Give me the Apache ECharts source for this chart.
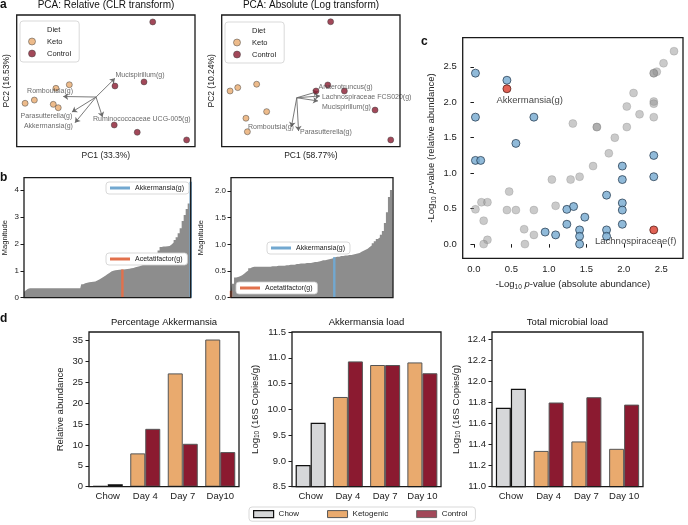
<!DOCTYPE html>
<html>
<head>
<meta charset="utf-8">
<script src="https://cdn.jsdelivr.net/npm/echarts@6/dist/echarts.min.js"></script>
<style>
  html, body { margin: 0; padding: 0; background: #fff; }
  #chart { width: 688px; height: 525px; }
</style>
</head>
<body>
<div id="chart"></div>
<script>
// ---- panel a: PCA biplots ----
const relKeto = [[-2.80, -0.42], [-2.05, -0.22], [-4.53, -1.26], [-4.01, -1.08], [-2.95, -1.32], [-2.67, -1.51]]
const relCtrl = [[2.63, 3.31], [0.51, -0.29], [2.14, -0.06], [0.47, -2.48], [1.76, -2.89], [4.53, -3.32]]
const relOrigin = [-0.55, -0.91]
const relLoadNames = ['Mucispirillum(g)', 'Romboutsia(g)', 'Parasutterella(g)', 'Akkermansia(g)', 'Ruminococcaceae UCG-005(g)']
const relLoadTips = [[0.51, 0.14], [-2.39, -0.88], [-1.90, -1.75], [-1.73, -2.35], [-0.19, -2.03]]
const relLoadLabels = [[0.54, 0.33], [-3.13, -0.57], [-3.33, -1.97], [-3.22, -2.54], [-0.72, -2.14]]

const absKeto = [[-4.53, -0.57], [-4.10, -0.38], [-3.04, -0.19], [-2.48, -1.73], [-3.64, -2.10], [-3.56, -2.86]]
const absCtrl = [[1.11, 3.32], [0.29, -0.57], [0.95, -0.23], [1.88, -0.57], [3.60, -1.64], [4.48, -3.32]]
const absOrigin = [-0.79, -0.95]
const absLoadNames = ['Anaerotruncus(g)', 'Lachnospiraceae FCS020(g)', 'Mucispirillum(g)', 'Romboutsia(g)', 'Parasutterella(g)']
const absLoadTips = [[0.40, -0.60], [0.51, -0.85], [0.40, -1.13], [-1.09, -2.59], [-0.69, -2.82]]
const absLoadLabels = [[0.43, -0.35], [0.62, -0.91], [0.62, -1.47], [-2.24, -2.62], [-0.61, -2.87]]

// ---- panel b: sorted feature magnitudes ----
const magRel = [0.22, 0.28, 0.33,
  0.35, 0.35, 0.35, 0.35, 0.35, 0.35, 0.35, 0.35, 0.35, 0.35, 0.35, 0.35, 0.35,
  0.35, 0.35, 0.35, 0.35, 0.35, 0.35, 0.35, 0.35, 0.35, 0.35, 0.35, 0.35, 0.35,
  0.50, 0.54, 0.56, 0.57, 0.58, 0.59, 0.60, 0.64, 0.68, 0.72, 0.77, 0.82, 0.87, 0.92, 0.97,
  1.00, 1.02, 1.03, 1.04, 1.05, 1.05, 1.06, 1.07, 1.08, 1.09, 1.10, 1.13, 1.15, 1.17, 1.20,
  1.22, 1.25, 1.28, 1.30, 1.33, 1.36, 1.45, 1.59, 1.75, 1.88, 1.90, 1.90, 1.91, 1.92, 1.98,
  2.05, 2.14, 2.25, 2.40, 2.58, 2.85, 3.07, 3.30, 3.50, 4.31]
const relAcetIdx = 49
const relAkkIdx = 83

const magAbs = [0.13, 0.26, 0.38, 0.39, 0.40, 0.42, 0.45, 0.48, 0.51, 0.55, 0.57,
  0.58, 0.58, 0.58, 0.58, 0.58, 0.58, 0.58, 0.58, 0.58,
  0.59, 0.59, 0.59, 0.60, 0.60, 0.60, 0.60,
  0.61, 0.61, 0.62, 0.62, 0.62, 0.63, 0.63, 0.64, 0.64, 0.64, 0.65, 0.65, 0.65,
  0.66, 0.67, 0.67, 0.68, 0.69, 0.70, 0.70,
  0.71, 0.72, 0.73, 0.74, 0.76,
  0.77, 0.77, 0.78, 0.78, 0.79, 0.79, 0.80, 0.80,
  0.81, 0.82, 0.83, 0.84, 0.86, 0.88, 0.90, 0.92, 0.95, 0.98, 1.02,
  1.06, 1.10, 1.13, 1.18, 1.25, 1.40, 1.60, 1.89, 2.02, 2.10]
const absAcetIdx = 0
const absAkkIdx = 51

// ---- panel c: -log10 p-values ----
const greyPts = [[2.67, 2.72], [2.53, 2.55], [2.40, 2.41], [2.44, 2.43], [2.40, 2.41], [2.13, 2.13],
  [2.04, 1.94], [2.40, 2.01], [2.40, 1.98], [2.21, 1.83], [2.40, 1.79], [1.32, 1.70], [1.64, 1.65],
  [1.64, 1.65], [2.04, 1.65], [1.88, 1.50], [1.80, 1.28], [1.59, 1.10], [1.41, 0.95], [1.29, 0.91],
  [1.04, 0.91], [0.47, 0.74], [0.10, 0.59], [0.18, 0.59], [0.02, 0.49], [0.44, 0.48], [0.56, 0.48],
  [0.80, 0.48], [1.09, 0.54], [0.13, 0.33], [0.67, 0.21], [0.80, 0.13], [0.18, 0.06], [0.13, 0.00],
  [0.68, 0.00]]
const bluePts = [[0.02, 2.41], [0.44, 2.31], [0.02, 1.79], [0.80, 1.79], [0.56, 1.42], [0.02, 1.18],
  [0.09, 1.18], [1.98, 1.10], [1.98, 0.91], [2.40, 1.25], [2.40, 0.95], [1.77, 0.69], [1.24, 0.49],
  [1.33, 0.53], [1.48, 0.38], [1.24, 0.28], [0.95, 0.17], [1.09, 0.13], [1.41, 0.20], [1.41, 0.11],
  [1.41, 0.00], [1.77, 0.20], [1.77, 0.11], [1.98, 0.58], [1.98, 0.48], [1.98, 0.28]]
const redPts = [[0.44, 2.19], [2.40, 0.20]]
const redNames = ['Akkermansia(g)', 'Lachnospiraceae(f)']
const cTicks = [0, 0.5, 1, 1.5, 2, 2.5]

// ---- panel d: bars ----
const dayCats1 = ['Chow', 'Day 4', 'Day 7', 'Day10']
const dayCats = ['Chow', 'Day 4', 'Day 7', 'Day 10']
const pctChow = [0.15, 0.6]
const pctKeto = [7.97, 27.1, 35.2]
const pctCtrl = [13.84, 10.26, 8.28]
const loadChow = [8.92, 9.74]
const loadKeto = [10.24, 10.86, 10.91]
const loadCtrl = [10.93, 10.86, 10.70]
const totalChow = [11.75, 11.93]
const totalKeto = [11.34, 11.43, 11.36]
const totalCtrl = [11.80, 11.85, 11.78]
const pctTicks = [0, 5, 10, 15, 20, 25, 30, 35]
const loadTicks = [8.5, 9, 9.5, 10, 10.5, 11, 11.5]
const totalTicks = [11.0, 11.2, 11.4, 11.6, 11.8, 12.0, 12.2, 12.4]

const FF = '"Liberation Sans", Arial, sans-serif'
const KETO = '#e9aa6e'
const CTRL = '#8b1a30'
const CHOW = '#d6d7d9'
const GREYBAR = '#8d8d8d'
const ORANGE = '#e2714c'
const BLUE = '#72a8d0'
const INK = '#1a1a1a'

const chart = echarts.init(document.getElementById('chart'), null, { renderer: 'canvas' })

const frame = { show: true, borderColor: INK, borderWidth: 1.3, backgroundColor: 'rgba(0,0,0,0)', z: 10 }
const grids = [
  { left: 16.7, top: 15, width: 178.3, height: 131.7 },
  { left: 221.7, top: 15, width: 178.3, height: 131.7 },
  { left: 22.7, top: 177.7, width: 168, height: 120 },
  { left: 231, top: 177.7, width: 162, height: 120 },
  { left: 462.7, top: 37.7, width: 220.3, height: 220.6 },
  { left: 89, top: 332, width: 150, height: 154.7 },
  { left: 292, top: 332, width: 149, height: 154.7 },
  { left: 492, top: 332, width: 151, height: 154.7 },
].map((g) => ({ ...g, ...frame }))

const hidden = {
  axisLine: { show: false },
  axisTick: { show: false },
  axisLabel: { show: false },
  splitLine: { show: false },
}
const nameStyle = (size) => ({ fontSize: size, color: '#222', fontFamily: FF })
const sub = { s: { fontSize: 6.5, verticalAlign: 'bottom', lineHeight: 12 }, i: { fontStyle: 'italic', fontSize: 9.5 } }
const fix1 = (v) => v.toFixed(1)

function valueY(gi, min, max, ticks, fmt, size, margin, name, gap, nameSize) {
  return {
    gridIndex: gi, type: 'value', min, max,
    axisLine: { show: false }, splitLine: { show: false },
    axisTick: { show: true, length: 3.5, customValues: ticks, lineStyle: { color: INK, width: 1 } },
    axisLabel: { customValues: ticks, formatter: fmt, fontSize: size, color: '#222', margin },
    name, nameLocation: 'middle', nameGap: gap,
    nameTextStyle: { ...nameStyle(nameSize), rich: sub },
  }
}
const dayX = (gi, cats) => ({
  gridIndex: gi, type: 'category', data: cats,
  axisLine: { show: false }, axisTick: { show: false },
  axisLabel: { interval: 0, fontSize: 9.5, color: '#222', margin: 5 },
})

const xAxis = [
  { gridIndex: 0, type: 'value', min: -5, max: 5, ...hidden, name: 'PC1 (33.3%)', nameLocation: 'middle', nameGap: 4, nameTextStyle: nameStyle(8.5) },
  { gridIndex: 1, type: 'value', min: -5, max: 5, ...hidden, name: 'PC1 (58.77%)', nameLocation: 'middle', nameGap: 4, nameTextStyle: nameStyle(8.5) },
  { gridIndex: 2, type: 'category', boundaryGap: false, data: magRel.map((v, i) => i), ...hidden },
  { gridIndex: 3, type: 'category', boundaryGap: false, data: magAbs.map((v, i) => i), ...hidden },
  {
    gridIndex: 4, type: 'value', min: -0.15, max: 2.79,
    axisLine: { show: false }, splitLine: { show: false },
    axisTick: { show: true, length: 3.5, customValues: cTicks, lineStyle: { color: INK } },
    axisLabel: { customValues: cTicks, formatter: fix1, fontSize: 9.5, color: '#222', margin: 6 },
    name: '-Log{s|10} {i|p}-value (absolute abundance)', nameLocation: 'middle', nameGap: 20,
    nameTextStyle: { ...nameStyle(9.5), rich: sub },
  },
  dayX(5, dayCats1),
  dayX(6, dayCats),
  dayX(7, dayCats),
]

const yAxis = [
  { gridIndex: 0, type: 'value', min: -3.7, max: 3.7, ...hidden, name: 'PC2 (16.53%)', nameLocation: 'middle', nameGap: 5.5, nameTextStyle: nameStyle(8.5) },
  { gridIndex: 1, type: 'value', min: -3.7, max: 3.7, ...hidden, name: 'PC2 (10.24%)', nameLocation: 'middle', nameGap: 5.5, nameTextStyle: nameStyle(8.5) },
  valueY(2, 0, 4.46, [0, 1, 2, 3, 4], (v) => String(v), 8, 5, 'Magnitude', 15, 7.5),
  valueY(3, 0, 2.25, [0, 0.5, 1, 1.5, 2], fix1, 8, 5, 'Magnitude', 26, 7.5),
  valueY(4, -0.2, 2.91, cTicks, fix1, 9.5, 6, '-Log{s|10} {i|p}-value (relative abundance)', 25, 9.5),
  valueY(5, 0, 37, pctTicks, (v) => String(v), 9.5, 6, 'Relative abundance', 24, 9.5),
  valueY(6, 8.5, 11.5, loadTicks, fix1, 9.5, 6, 'Log{s|10} (16S Copies/g)', 31, 9.5),
  valueY(7, 11.0, 12.47, totalTicks, fix1, 9.5, 6, 'Log{s|10} (16S Copies/g)', 30, 9.5),
]

function pcaSeries(gi, keto, ctrl, origin, tips, names, labels, aligns) {
  return [
    { type: 'lines', coordinateSystem: 'cartesian2d', xAxisIndex: gi, yAxisIndex: gi,
      data: tips.map((t) => ({ coords: [origin, t] })),
      symbol: ['none', 'arrow'], symbolSize: [0, 5],
      lineStyle: { color: '#6b6b6b', width: 0.9, opacity: 1 }, z: 3, silent: true },
    { type: 'scatter', name: 'Keto', xAxisIndex: gi, yAxisIndex: gi, data: keto, symbolSize: 6,
      itemStyle: { color: KETO, borderColor: '#3a3a3a', borderWidth: 0.6 }, z: 4 },
    { type: 'scatter', name: 'Control', xAxisIndex: gi, yAxisIndex: gi, data: ctrl, symbolSize: 6,
      itemStyle: { color: CTRL, borderColor: '#3a3a3a', borderWidth: 0.6 }, z: 4 },
    { type: 'scatter', xAxisIndex: gi, yAxisIndex: gi, symbolSize: 1,
      itemStyle: { color: 'rgba(0,0,0,0)' },
      data: names.map((n, i) => ({ name: n, value: labels[i], label: { align: aligns[i] } })),
      label: { show: true, position: 'inside', formatter: '{b}', fontSize: 7, color: '#444', verticalAlign: 'middle' },
      z: 5, silent: true },
  ]
}

// grey sorted-magnitude area plus the two highlighted features as thin bars
function magSeries(gi, values, acetIdx, akkIdx) {
  return [
    { type: 'line', xAxisIndex: gi, yAxisIndex: gi, data: values, step: 'middle', symbol: 'none',
      lineStyle: { width: 0 }, areaStyle: { color: GREYBAR, opacity: 1 }, silent: true, z: 2 },
    { type: 'bar', xAxisIndex: gi, yAxisIndex: gi, barWidth: 2.4, silent: true, z: 3,
      data: values.map((v, i) => {
        if (i === acetIdx) return { value: v, itemStyle: { color: ORANGE } }
        if (i === akkIdx) return { value: v, itemStyle: { color: BLUE } }
        return '-'
      }) },
  ]
}

const chowStyle = { color: CHOW, borderColor: '#111', borderWidth: 1.2 }
function daySeries(gi, chow, keto, ctrl) {
  const common = { type: 'bar', xAxisIndex: gi, yAxisIndex: gi, barWidth: 15, barGap: '0%', silent: true }
  return [
    { ...common, name: 'Ketogenic', itemStyle: { color: KETO, borderColor: '#555', borderWidth: 1 },
      data: [{ value: chow[0], itemStyle: chowStyle }, ...keto] },
    { ...common, name: 'Control', itemStyle: { color: CTRL, borderColor: '#555', borderWidth: 1 },
      data: [{ value: chow[1], itemStyle: chowStyle }, ...ctrl] },
  ]
}

const series = [
  ...pcaSeries(0, relKeto, relCtrl, relOrigin, relLoadTips, relLoadNames, relLoadLabels,
    ['left', 'center', 'center', 'center', 'left']),
  ...pcaSeries(1, absKeto, absCtrl, absOrigin, absLoadTips, absLoadNames, absLoadLabels,
    ['left', 'left', 'left', 'center', 'left']),
  { type: 'scatter', name: 'Diet', xAxisIndex: 0, yAxisIndex: 0, data: [] },
  ...magSeries(2, magRel, relAcetIdx, relAkkIdx),
  ...magSeries(3, magAbs, absAcetIdx, absAkkIdx),
  { type: 'line', name: 'Akkermansia(g)', xAxisIndex: 2, yAxisIndex: 2, data: [], itemStyle: { color: BLUE } },
  { type: 'line', name: 'Acetatifactor(g)', xAxisIndex: 2, yAxisIndex: 2, data: [], itemStyle: { color: ORANGE } },
  { type: 'scatter', xAxisIndex: 4, yAxisIndex: 4, data: greyPts, symbolSize: 8, silent: true,
    itemStyle: { color: 'rgba(145,145,145,0.6)', borderColor: 'rgba(100,100,100,0.45)', borderWidth: 0.6 } },
  { type: 'scatter', xAxisIndex: 4, yAxisIndex: 4, data: bluePts, symbolSize: 8, silent: true,
    itemStyle: { color: '#74a9cf', borderColor: '#1e3449', borderWidth: 0.9 } },
  { type: 'scatter', xAxisIndex: 4, yAxisIndex: 4, symbolSize: 8, silent: true,
    itemStyle: { color: '#d93b2b', borderColor: '#4a1510', borderWidth: 0.9 },
    label: { show: true, formatter: '{b}', fontSize: 9.5, color: '#111', verticalAlign: 'top' },
    data: redPts.map((p, i) => ({
      value: p, name: redNames[i],
      label: i === 0 ? { position: [-6, 11], align: 'left' } : { position: [27, 11], align: 'right' },
    })) },
  ...daySeries(5, pctChow, pctKeto, pctCtrl),
  ...daySeries(6, loadChow, loadKeto, loadCtrl),
  ...daySeries(7, totalChow, totalKeto, totalCtrl),
  { type: 'line', name: 'Chow', xAxisIndex: 5, yAxisIndex: 5, data: [], itemStyle: { color: CHOW } },
]

const boxLegend = {
  selectedMode: false, backgroundColor: '#fff', borderColor: '#cfcfcf', borderWidth: 0.8, borderRadius: 3,
  textStyle: { color: '#222', fontFamily: FF },
}
const dietData = [
  { name: 'Diet', icon: 'none' },
  { name: 'Keto', icon: 'circle', itemStyle: { color: KETO, borderColor: '#3a3a3a', borderWidth: 0.6 } },
  { name: 'Control', icon: 'circle', itemStyle: { color: CTRL, borderColor: '#3a3a3a', borderWidth: 0.6 } },
]
const dietLegend = (left, top) => ({
  ...boxLegend, left, top, orient: 'vertical', data: dietData,
  itemWidth: 20, itemHeight: 7, itemGap: 3, padding: [4, 8, 4, 2],
  textStyle: { ...boxLegend.textStyle, fontSize: 7.5, lineHeight: 9 },
})
const lineLegend = (left, top, name, color) => ({
  ...boxLegend, left, top, data: [{ name, icon: 'rect', itemStyle: { color } }],
  itemWidth: 20, itemHeight: 3, padding: [2, 5, 2, 4],
  textStyle: { ...boxLegend.textStyle, fontSize: 7, lineHeight: 8 },
})

const legend = [
  dietLegend(20, 21),
  dietLegend(225, 22),
  lineLegend(106, 182, 'Akkermansia(g)', BLUE),
  lineLegend(106, 253, 'Acetatifactor(g)', ORANGE),
  lineLegend(267, 242, 'Akkermansia(g)', BLUE),
  lineLegend(236, 282, 'Acetatifactor(g)', ORANGE),
  {
    ...boxLegend, left: 249, top: 507, itemWidth: 20, itemHeight: 7, itemGap: 28, padding: [3, 8, 3, 4],
    textStyle: { ...boxLegend.textStyle, fontSize: 8 },
    data: [
      { name: 'Chow', icon: 'rect', itemStyle: chowStyle },
      { name: 'Ketogenic', icon: 'rect', itemStyle: { color: KETO, borderColor: '#555', borderWidth: 1 } },
      { name: 'Control', icon: 'rect', itemStyle: { color: CTRL, borderColor: '#555', borderWidth: 1 } },
    ],
  },
]

const txt = (x, y, text, size, weight, align) => ({
  type: 'text', x, y, silent: true,
  style: { text, fontSize: size, fontWeight: weight || 'normal', fontFamily: FF, fill: '#111',
    align: align || 'center', verticalAlign: 'middle' },
})

const graphic = [
  txt(0, 5, 'a', 12, 'bold', 'left'),
  txt(0, 178, 'b', 12, 'bold', 'left'),
  txt(421, 42, 'c', 12, 'bold', 'left'),
  txt(0, 319, 'd', 12, 'bold', 'left'),
  txt(106, 5.5, 'PCA: Relative (CLR transform)', 10),
  txt(311, 5.5, 'PCA: Absolute (Log transform)', 10),
  txt(164, 322.7, 'Percentage Akkermansia', 9.5),
  txt(366.5, 322.7, 'Akkermansia load', 9.5),
  txt(567.5, 322.7, 'Total microbial load', 9.5),
]

chart.setOption({
  animation: false,
  textStyle: { fontFamily: FF },
  grid: grids,
  xAxis,
  yAxis,
  legend,
  graphic,
  series,
})
</script>
</body>
</html>
